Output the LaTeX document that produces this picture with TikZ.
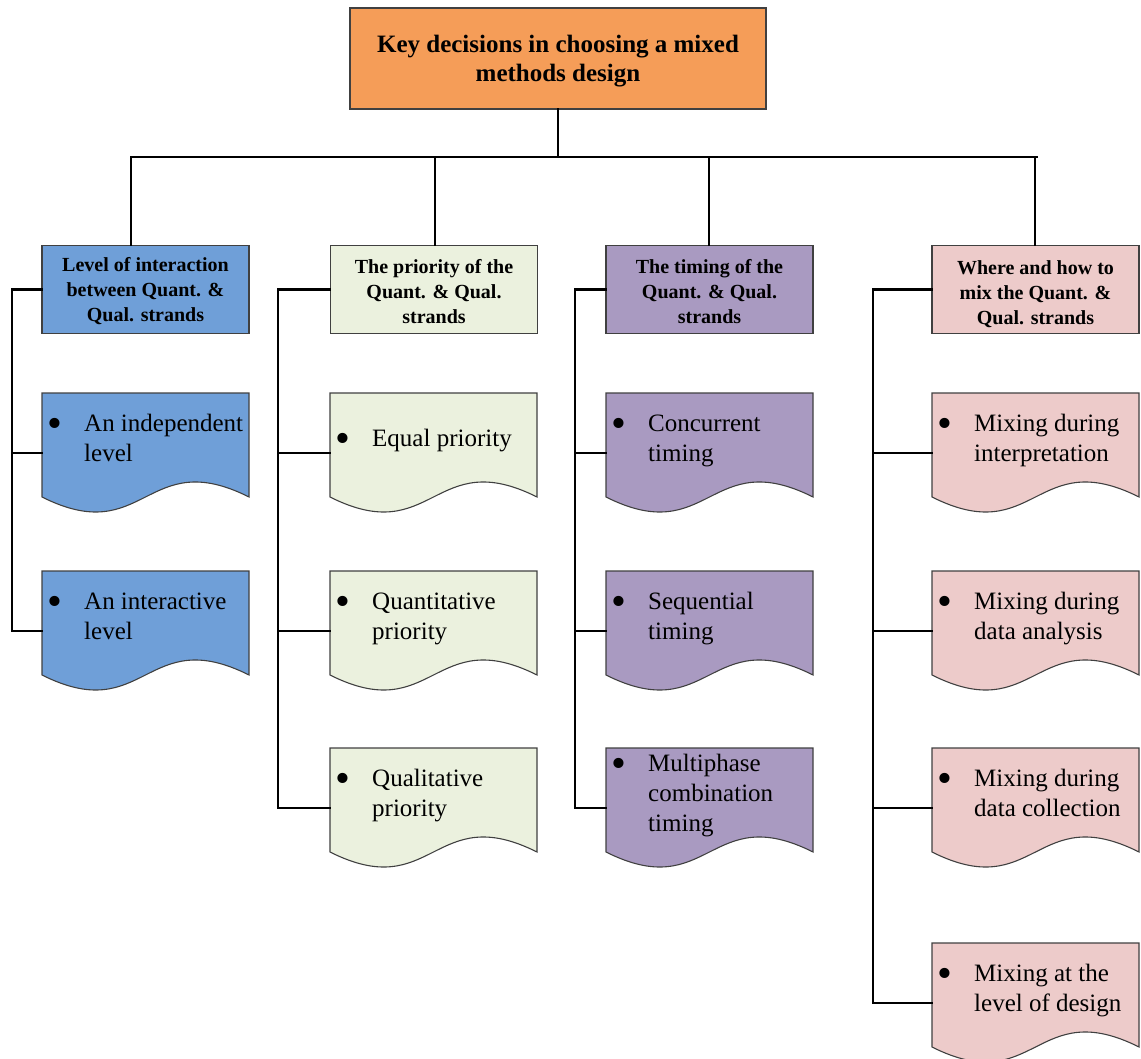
\documentclass[tikz,border=0pt]{standalone}
\usepackage{fontspec}
\setmainfont{Liberation Serif}
\definecolor{rootfill}{HTML}{F59D58}
\definecolor{bluefill}{HTML}{6F9FD8}
\definecolor{greenfill}{HTML}{EBF1DE}
\definecolor{purplefill}{HTML}{A99AC1}
\definecolor{pinkfill}{HTML}{EDCBCA}
\definecolor{edge}{HTML}{404040}
\tikzset{
  boxline/.style={draw=edge, line width=1.1pt},
  link/.style={draw=black, line width=2.5pt, line cap=rect},
  rootbox/.style={boxline, rectangle, minimum width=416pt, minimum height=101pt, inner sep=0pt},
  catbox/.style={boxline, rectangle, minimum width=207pt, minimum height=88pt, inner sep=0pt},
  roottext/.style={align=center, font=\fontsize{25}{29.5}\selectfont\bfseries, inner sep=0pt},
  cattext/.style={align=center, font=\fontsize{20}{25}\selectfont\bfseries, inner sep=0pt},
  itemtext/.style={anchor=west, inner sep=0pt, font=\fontsize{25}{30}\selectfont},
}
% bulleted text block
\newcommand\bigbullet{\raisebox{-6pt}{\scalebox{1.7}{\textbullet}}}
\newcommand\bulletlines[1]{\begin{tabular}{@{}p{37pt}@{}l@{}}\bigbullet & #1\end{tabular}}
% document shape with wavy bottom: left, top, fill, name of left connector point
\newcommand\docshape[4]{%
  \pgfmathsetmacro\dL{#1}\pgfmathsetmacro\dR{#1+207}\pgfmathsetmacro\dM{#1+103.5}%
  \pgfmathsetmacro\dT{#2}\pgfmathsetmacro\dB{#2+104}%
  \pgfmathsetmacro\dUp{#2+52}\pgfmathsetmacro\dDn{#2+156}%
  \draw[boxline, fill=#3] (\dL,\dT) -- (\dR,\dT) -- (\dR,\dB)
     .. controls (\dM,\dUp) and (\dM,\dDn) .. (\dL,\dB) -- cycle;
  \coordinate (#4) at (\dL,\dT+60);
}
\begin{document}
\begin{tikzpicture}[x=1pt, y=-1pt]
\useasboundingbox (0,0) rectangle (1141,1059);

% root
\node[rootbox, fill=rootfill] (root) at (558,58.5) {};
\node[roottext] (roott) at (558,61) {Key decisions in choosing a mixed\\methods design};

% categories
\node[catbox, fill=bluefill]   (c1) at (145.5,289.5) {};
\node[catbox, fill=greenfill]  (c2) at (434,289.5)   {};
\node[catbox, fill=purplefill] (c3) at (709.5,289.5) {};
\node[catbox, fill=pinkfill]   (c4) at (1035.5,289.5){};
\node[cattext] (c1t) at (145.5,291.5) {Level of interaction\\between Quant. \&\\Qual. strands};
\node[cattext] (c2t) at (434,291.5)   {The priority of the\\Quant. \& Qual.\\strands};
\node[cattext] (c3t) at (709.5,291.5) {The timing of the\\Quant. \& Qual.\\strands};
\node[cattext] (c4t) at (1035.5,294)  {Where and how to\\mix the Quant. \&\\Qual. strands};

% trunk and branches
\coordinate (bus) at (558,157);
\coordinate (b1) at (131,157);
\coordinate (b2) at (435,157);
\coordinate (b3) at (709,157);
\coordinate (b4) at (1037,157);
\coordinate (b4d) at (1035,157);
\draw[link] (root.south) -- (bus);
\draw[link] (b1) -- (b4);
\draw[link] (b1) -- (b1 |- c1.north);
\draw[link] (b2) -- (b2 |- c2.north);
\draw[link] (b3) -- (b3 |- c3.north);
\draw[link] (b4d) -- (b4d |- c4.north);

% column 1
\docshape{42}{393}{bluefill}{p11}
\node[itemtext] (i11) at (47,440) {\bulletlines{An independent\\ & level}};
\docshape{42}{571}{bluefill}{p12}
\node[itemtext] (i12) at (47,618) {\bulletlines{An interactive\\ & level}};
\coordinate (v1) at (12,289.5);
\draw[link] (c1.west) -- (v1) -- (v1 |- p12) -- (p12);
\draw[link] (v1 |- p11) -- (p11);

% column 2
\docshape{330}{393}{greenfill}{p21}
\node[itemtext] (i21) at (335,440) {\bulletlines{Equal priority}};
\docshape{330}{571}{greenfill}{p22}
\node[itemtext] (i22) at (335,618) {\bulletlines{Quantitative\\ & priority}};
\docshape{330}{748}{greenfill}{p23}
\node[itemtext] (i23) at (335,795) {\bulletlines{Qualitative\\ & priority}};
\coordinate (v2) at (278,289.5);
\draw[link] (c2.west) -- (v2) -- (v2 |- p23) -- (p23);
\draw[link] (v2 |- p21) -- (p21);
\draw[link] (v2 |- p22) -- (p22);

% column 3
\docshape{606}{393}{purplefill}{p31}
\node[itemtext] (i31) at (611,440) {\bulletlines{Concurrent\\ & timing}};
\docshape{606}{571}{purplefill}{p32}
\node[itemtext] (i32) at (611,618) {\bulletlines{Sequential\\ & timing}};
\docshape{606}{748}{purplefill}{p33}
\node[itemtext] (i33) at (611,795) {\bulletlines{Multiphase\\ & combination\\ & timing}};
\coordinate (v3) at (575,289.5);
\draw[link] (c3.west) -- (v3) -- (v3 |- p33) -- (p33);
\draw[link] (v3 |- p31) -- (p31);
\draw[link] (v3 |- p32) -- (p32);

% column 4
\docshape{932}{393}{pinkfill}{p41}
\node[itemtext] (i41) at (937,440) {\bulletlines{Mixing during\\ & interpretation}};
\docshape{932}{571}{pinkfill}{p42}
\node[itemtext] (i42) at (937,618) {\bulletlines{Mixing during\\ & data analysis}};
\docshape{932}{748}{pinkfill}{p43}
\node[itemtext] (i43) at (937,795) {\bulletlines{Mixing during\\ & data collection}};
\docshape{932}{943}{pinkfill}{p44}
\node[itemtext] (i44) at (937,990) {\bulletlines{Mixing at the\\ & level of design}};
\coordinate (v4) at (873,289.5);
\draw[link] (c4.west) -- (v4) -- (v4 |- p44) -- (p44);
\draw[link] (v4 |- p41) -- (p41);
\draw[link] (v4 |- p42) -- (p42);
\draw[link] (v4 |- p43) -- (p43);
\end{tikzpicture}
\end{document}
